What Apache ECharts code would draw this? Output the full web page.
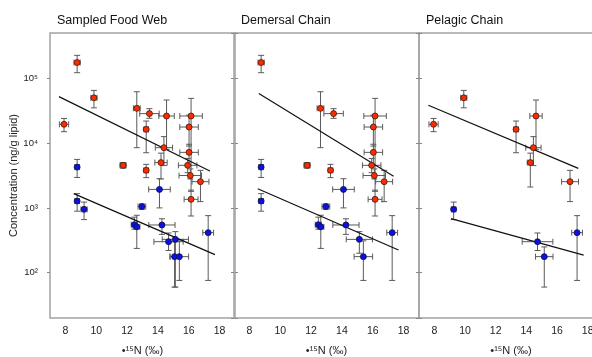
<!DOCTYPE html>
<html>
<head>
<meta charset="utf-8">
<script src="https://cdn.jsdelivr.net/npm/echarts@6/dist/echarts.min.js"></script>
<style>
  html, body { margin: 0; padding: 0; background: #fff; }
  #chart { width: 592px; height: 357px; }
</style>
</head>
<body>
<div id="chart"></div>
<script>
// each point: [d15N, concentration, xErr, yLow, yHigh]
const webRed = [
  [8.76, 175000, 0.2, 122000, 226000],
  [7.91, 19500, 0.3, 15000, 24000],
  [9.85, 50000, 0.2, 35000, 65000],
  [12.63, 34400, 0.22, 8500, 62000],
  [13.45, 28500, 0.63, 24100, 34000],
  [13.24, 16300, 0.15, 7100, 21900],
  [14.56, 26200, 0.5, 8000, 46200],
  [14.39, 8500, 0.56, 4500, 12600],
  [14.2, 5000, 0.4, 2800, 7000],
  [16.15, 26200, 0.73, 1800, 49000],
  [16.02, 17700, 0.6, 9000, 27000],
  [16.02, 7200, 0.6, 4500, 9600],
  [15.93, 4540, 0.6, 3500, 5800],
  [16.1, 3160, 0.73, 2800, 4000],
  [11.74, 4540, 0.2, 4100, 5000],
  [13.24, 3800, 0.15, 2930, 4700],
  [16.76, 2540, 0.55, 1250, 3800],
  [16.15, 1355, 0.45, 750, 1880]
]
const webBlue = [
  [8.76, 4260, 0.15, 2950, 5600],
  [8.76, 1275, 0.15, 890, 1660],
  [9.21, 950, 0.2, 660, 1230],
  [12.96, 1050, 0.25, 950, 1150],
  [14.1, 1930, 0.7, 1000, 2820],
  [12.47, 550, 0.2, 470, 720],
  [12.63, 510, 0.2, 237, 770],
  [14.26, 545, 0.85, 390, 680],
  [15.13, 327, 0.85, 60, 430],
  [14.69, 301, 0.95, 220, 410],
  [15.08, 177, 0.3, 60, 300],
  [15.39, 177, 0.6, 76, 310],
  [17.26, 415, 0.35, 76, 760]
]
const demRed = [
  [8.76, 175000, 0.2, 122000, 226000],
  [12.61, 34400, 0.22, 8500, 62000],
  [13.46, 28500, 0.63, 24100, 34000],
  [16.15, 26200, 0.73, 1800, 49000],
  [16.04, 17700, 0.6, 9000, 27000],
  [16.04, 7200, 0.6, 4500, 9600],
  [15.93, 4540, 0.6, 3500, 5800],
  [16.1, 3160, 0.73, 2800, 4000],
  [11.74, 4540, 0.2, 4100, 5000],
  [13.26, 3800, 0.15, 2930, 4700],
  [16.74, 2540, 0.55, 1250, 3800],
  [16.15, 1355, 0.45, 750, 1880]
]
const demBlue = [
  [8.76, 4260, 0.15, 2950, 5600],
  [8.76, 1275, 0.15, 890, 1660],
  [12.96, 1050, 0.25, 950, 1150],
  [14.1, 1930, 0.7, 1000, 2820],
  [12.47, 550, 0.2, 470, 720],
  [12.63, 510, 0.2, 237, 770],
  [14.26, 545, 0.85, 390, 680],
  [15.13, 327, 0.85, 200, 430],
  [15.39, 177, 0.6, 76, 310],
  [17.26, 415, 0.35, 76, 760]
]
const pelRed = [
  [7.95, 19500, 0.3, 15000, 24000],
  [9.92, 50000, 0.2, 35000, 65000],
  [13.33, 16300, 0.15, 7100, 21900],
  [14.63, 26200, 0.4, 8000, 46200],
  [14.46, 8500, 0.5, 4500, 12600],
  [14.26, 5000, 0.2, 2100, 7000],
  [16.85, 2540, 0.55, 1250, 3800]
]
const pelBlue = [
  [9.26, 950, 0.15, 660, 1230],
  [14.73, 301, 1.0, 220, 410],
  [15.17, 177, 0.57, 60, 250],
  [17.31, 415, 0.35, 76, 760]
]
// regression line end points
const webRedFit = [[7.58, 52100], [17.37, 3700]]
const webBlueFit = [[8.54, 1660], [17.7, 190]]
const demRedFit = [[8.61, 58100], [17.35, 3090]]
const demBlueFit = [[8.54, 1980], [17.67, 224]]
const pelRedFit = [[7.61, 38300], [17.39, 4070]]
const pelBlueFit = [[9.09, 682], [17.74, 187]]

const titles = ['Sampled Food Web', 'Demersal Chain', 'Pelagic Chain']
const xName = '•¹⁵N (‰)'
const yName = 'Concentration (ng/g lipid)'
const sup = ['⁰', '¹', '²', '³', '⁴', '⁵', '⁶']

const panels = [
  { red: webRed, blue: webBlue, redFit: webRedFit, blueFit: webBlueFit },
  { red: demRed, blue: demBlue, redFit: demRedFit, blueFit: demBlueFit },
  { red: pelRed, blue: pelBlue, redFit: pelRedFit, blueFit: pelBlueFit }
]

const gridLeft = [50, 234, 419]
const gridWidth = [185, 185, 184]
const font = 'Liberation Sans, Arial, sans-serif'

function errRender(params, api) {
  const x = api.value(0), y = api.value(1), dx = api.value(2)
  const lo = api.value(3), hi = api.value(4)
  const c = api.coord([x, y])
  const l = api.coord([x - dx, y])
  const r = api.coord([x + dx, y])
  const t = api.coord([x, hi])
  const b = api.coord([x, lo])
  const cap = 3
  const style = { stroke: '#5a5a5a', lineWidth: 1 }
  const seg = (x1, y1, x2, y2) => ({ type: 'line', shape: { x1, y1, x2, y2 }, style })
  return {
    type: 'group',
    children: [
      seg(l[0], c[1], r[0], c[1]),
      seg(l[0], c[1] - cap, l[0], c[1] + cap),
      seg(r[0], c[1] - cap, r[0], c[1] + cap),
      seg(c[0], t[1], c[0], b[1]),
      seg(c[0] - cap, t[1], c[0] + cap, t[1]),
      seg(c[0] - cap, b[1], c[0] + cap, b[1])
    ]
  }
}

const grid = [], xAxis = [], yAxis = [], series = [], title = []
panels.forEach((p, i) => {
  grid.push({
    left: gridLeft[i], top: 33, width: gridWidth[i], height: 285,
    outerBoundsMode: 'none', containLabel: false,
    show: true, borderColor: '#a3a3a3', borderWidth: 1.5, backgroundColor: 'transparent'
  })
  title.push({
    text: titles[i], left: gridLeft[i] + 7, top: 14, padding: 0,
    textStyle: { fontFamily: font, fontSize: 12.5, fontWeight: 'normal', color: '#111' }
  })
  xAxis.push({
    type: 'value', gridIndex: i, min: 7, max: 19, interval: 1,
    name: xName, nameLocation: 'middle', nameGap: 27,
    nameTextStyle: { fontFamily: font, fontSize: 11, color: '#222' },
    axisLine: { show: false },
    axisTick: { show: false },
    splitLine: { show: false },
    axisLabel: {
      margin: 8, fontFamily: font, fontSize: 10.5, color: '#222',
      formatter: v => (v % 2 === 0 ? String(v) : '')
    }
  })
  yAxis.push({
    type: 'log', logBase: 10, gridIndex: i, min: 20, max: 500000,
    name: i === 0 ? yName : '', nameLocation: 'middle', nameGap: 29,
    nameTextStyle: { fontFamily: font, fontSize: 11, color: '#222' },
    axisLine: { show: false },
    axisTick: { show: true, length: 3, lineStyle: { color: '#888' } },
    splitLine: { show: false },
    minorTick: { show: false },
    axisLabel: {
      show: i === 0, margin: 12, fontFamily: font, fontSize: 9.5, color: '#222',
      showMinLabel: false, showMaxLabel: false,
      formatter: v => '10' + sup[Math.round(Math.log10(v))]
    }
  })
  if (i < 2) {
    yAxis.push({
      type: 'log', logBase: 10, gridIndex: i, min: 20, max: 500000, position: 'right',
      axisLine: { show: false },
      axisTick: { show: true, length: 3, lineStyle: { color: '#888' } },
      splitLine: { show: false },
      axisLabel: { show: false }
    })
  }
})

// y axis index of the left axis of each panel
const yIdx = [0, 2, 4]

panels.forEach((p, i) => {
  const axes = { xAxisIndex: i, yAxisIndex: yIdx[i] }
  series.push({ type: 'custom', ...axes, data: p.red, renderItem: errRender, z: 2, silent: true })
  series.push({ type: 'custom', ...axes, data: p.blue, renderItem: errRender, z: 2, silent: true })
  series.push({
    type: 'line', ...axes, data: p.redFit, showSymbol: false, z: 3,
    lineStyle: { color: '#111', width: 1.2 }
  })
  series.push({
    type: 'line', ...axes, data: p.blueFit, showSymbol: false, z: 3,
    lineStyle: { color: '#111', width: 1.2 }
  })
  series.push({
    type: 'scatter', ...axes, data: p.red, symbol: 'circle', symbolSize: 6, z: 4,
    itemStyle: { color: '#ff2a00', borderColor: '#3a1a10', borderWidth: 0.8, opacity: 1 }
  })
  series.push({
    type: 'scatter', ...axes, data: p.blue, symbol: 'circle', symbolSize: 6, z: 4,
    itemStyle: { color: '#0a10e6', borderColor: '#10103a', borderWidth: 0.8, opacity: 1 }
  })
})

const chart = echarts.init(document.getElementById('chart'))
chart.setOption({
  animation: false,
  backgroundColor: '#fff',
  title, grid, xAxis, yAxis, series
})
</script>
</body>
</html>
